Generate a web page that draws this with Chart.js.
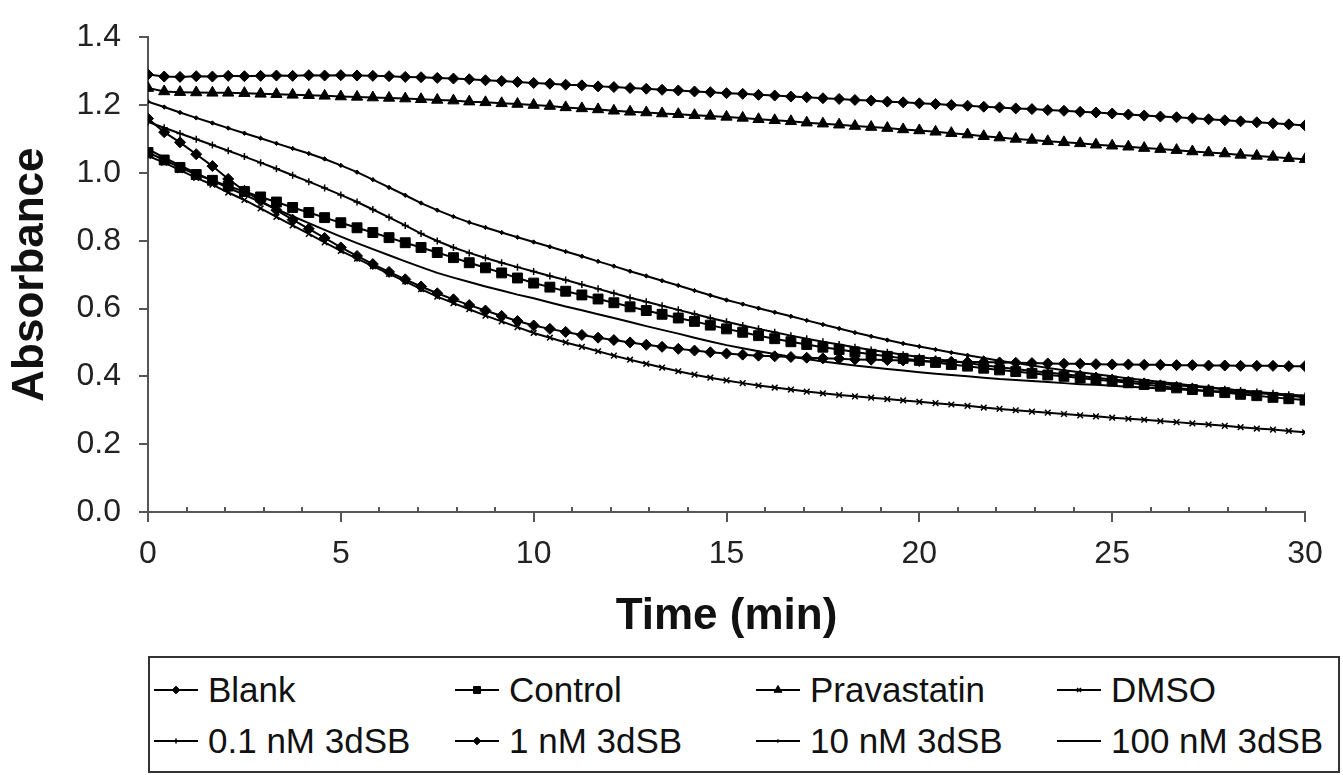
<!DOCTYPE html>
<html>
<head>
<meta charset="utf-8">
<script src="https://cdn.jsdelivr.net/npm/chart.js@4.4.1/dist/chart.umd.min.js"></script>
<style>
  html, body { margin: 0; padding: 0; background: #fff; }
  body { width: 1343px; height: 775px; position: relative; overflow: hidden; font-family: "Liberation Sans", Arial, sans-serif; }
  #wrap { position: absolute; left: 0; top: 0; width: 1343px; height: 650px; }
  #legend { position: absolute; left: 148px; top: 656px; width: 1188px; height: 113px; border: 2px solid #333; }
  .item { position: absolute; height: 40px; display: flex; align-items: center; }
  .item canvas { margin-right: 8px; }
  .item span { font-size: 35px; color: #111; white-space: nowrap; }
</style>
</head>
<body>
<div id="wrap"><canvas id="myChart" width="1343" height="650"></canvas></div>
<div id="legend"></div>
<script>
// time points, minutes (one reading every 25 s)
const times = [
  0, 0.42, 0.83, 1.25, 1.67, 2.08, 2.5, 2.92, 3.33, 3.75, 4.17, 4.58,
  5, 5.42, 5.83, 6.25, 6.67, 7.08, 7.5, 7.92, 8.33, 8.75, 9.17, 9.58,
  10, 10.42, 10.83, 11.25, 11.67, 12.08, 12.5, 12.92, 13.33, 13.75, 14.17, 14.58,
  15, 15.42, 15.83, 16.25, 16.67, 17.08, 17.5, 17.92, 18.33, 18.75, 19.17, 19.58,
  20, 20.42, 20.83, 21.25, 21.67, 22.08, 22.5, 22.92, 23.33, 23.75, 24.17, 24.58,
  25, 25.42, 25.83, 26.25, 26.67, 27.08, 27.5, 27.92, 28.33, 28.75, 29.17, 29.58, 30
];

const blank = [
  1.290, 1.284, 1.283, 1.285, 1.284, 1.286, 1.285, 1.286, 1.287, 1.286, 1.288, 1.287,
  1.288, 1.287, 1.286, 1.285, 1.283, 1.282, 1.280, 1.278, 1.276, 1.273, 1.271, 1.268,
  1.265, 1.263, 1.260, 1.258, 1.255, 1.253, 1.250, 1.248, 1.245, 1.243, 1.240, 1.238,
  1.235, 1.233, 1.230, 1.228, 1.225, 1.223, 1.220, 1.218, 1.215, 1.213, 1.210, 1.208,
  1.205, 1.203, 1.200, 1.198, 1.195, 1.193, 1.190, 1.188, 1.185, 1.183, 1.180, 1.178,
  1.175, 1.172, 1.169, 1.166, 1.164, 1.161, 1.158, 1.155, 1.152, 1.149, 1.146, 1.143, 1.140
];
const control = [
  1.060, 1.038, 1.016, 0.995, 0.978, 0.961, 0.945, 0.929, 0.914, 0.898, 0.883, 0.868,
  0.853, 0.838, 0.824, 0.809, 0.794, 0.780, 0.765, 0.750, 0.735, 0.720, 0.705, 0.690,
  0.675, 0.663, 0.651, 0.640, 0.628, 0.617, 0.605, 0.594, 0.583, 0.572, 0.562, 0.551,
  0.540, 0.530, 0.520, 0.511, 0.502, 0.494, 0.486, 0.479, 0.472, 0.465, 0.459, 0.453,
  0.447, 0.441, 0.435, 0.430, 0.424, 0.419, 0.414, 0.409, 0.404, 0.400, 0.395, 0.390,
  0.386, 0.381, 0.376, 0.371, 0.366, 0.361, 0.356, 0.352, 0.347, 0.343, 0.338, 0.334, 0.330
];
const pravastatin = [
  1.250, 1.240, 1.238, 1.237, 1.236, 1.236, 1.235, 1.233, 1.232, 1.230, 1.229, 1.227,
  1.225, 1.224, 1.222, 1.221, 1.219, 1.217, 1.215, 1.213, 1.210, 1.208, 1.205, 1.203,
  1.200, 1.197, 1.193, 1.190, 1.187, 1.183, 1.180, 1.178, 1.175, 1.173, 1.170, 1.168,
  1.165, 1.162, 1.158, 1.155, 1.152, 1.148, 1.145, 1.142, 1.138, 1.135, 1.132, 1.128,
  1.125, 1.121, 1.117, 1.113, 1.108, 1.104, 1.100, 1.097, 1.093, 1.090, 1.087, 1.083,
  1.080, 1.077, 1.073, 1.070, 1.067, 1.063, 1.060, 1.057, 1.053, 1.050, 1.047, 1.043, 1.040
];
const dmso = [
  1.050, 1.030, 1.008, 0.985, 0.965, 0.942, 0.920, 0.895, 0.870, 0.845, 0.820, 0.795,
  0.770, 0.747, 0.725, 0.702, 0.680, 0.657, 0.635, 0.616, 0.598, 0.579, 0.562, 0.545,
  0.528, 0.514, 0.500, 0.487, 0.474, 0.461, 0.449, 0.437, 0.426, 0.415, 0.405, 0.396,
  0.388, 0.380, 0.373, 0.367, 0.361, 0.355, 0.350, 0.345, 0.341, 0.337, 0.333, 0.329,
  0.325, 0.321, 0.317, 0.313, 0.308, 0.304, 0.300, 0.296, 0.293, 0.289, 0.285, 0.282,
  0.278, 0.275, 0.272, 0.268, 0.265, 0.261, 0.258, 0.254, 0.250, 0.246, 0.243, 0.239, 0.235
];
const sb01 = [
  1.150, 1.133, 1.116, 1.099, 1.082, 1.065, 1.048, 1.030, 1.012, 0.993, 0.974, 0.955,
  0.935, 0.914, 0.892, 0.869, 0.845, 0.821, 0.799, 0.780, 0.764, 0.749, 0.735, 0.722,
  0.709, 0.696, 0.684, 0.671, 0.658, 0.645, 0.632, 0.620, 0.608, 0.596, 0.584, 0.572,
  0.561, 0.550, 0.540, 0.530, 0.520, 0.511, 0.502, 0.494, 0.486, 0.478, 0.471, 0.464,
  0.457, 0.451, 0.445, 0.439, 0.433, 0.427, 0.422, 0.416, 0.411, 0.406, 0.401, 0.396,
  0.391, 0.387, 0.382, 0.378, 0.374, 0.370, 0.366, 0.362, 0.358, 0.354, 0.350, 0.346, 0.342
];
const sb1 = [
  1.160, 1.120, 1.090, 1.055, 1.020, 0.982, 0.947, 0.918, 0.890, 0.862, 0.835, 0.808,
  0.780, 0.755, 0.731, 0.708, 0.686, 0.665, 0.645, 0.627, 0.610, 0.594, 0.578, 0.563,
  0.550, 0.540, 0.531, 0.522, 0.514, 0.507, 0.500, 0.493, 0.487, 0.481, 0.476, 0.471,
  0.467, 0.464, 0.461, 0.459, 0.457, 0.455, 0.453, 0.452, 0.450, 0.449, 0.448, 0.447,
  0.445, 0.444, 0.443, 0.442, 0.442, 0.441, 0.440, 0.439, 0.438, 0.437, 0.437, 0.436,
  0.435, 0.435, 0.434, 0.434, 0.433, 0.433, 0.432, 0.432, 0.431, 0.431, 0.431, 0.430, 0.430
];
const sb10 = [
  1.210, 1.194, 1.178, 1.162, 1.147, 1.132, 1.117, 1.102, 1.087, 1.072, 1.057, 1.041,
  1.022, 1.002, 0.980, 0.957, 0.934, 0.911, 0.890, 0.871, 0.854, 0.839, 0.824, 0.810,
  0.796, 0.782, 0.768, 0.754, 0.739, 0.725, 0.710, 0.696, 0.682, 0.668, 0.653, 0.639,
  0.625, 0.613, 0.601, 0.589, 0.577, 0.565, 0.553, 0.541, 0.529, 0.518, 0.507, 0.497,
  0.488, 0.479, 0.470, 0.462, 0.454, 0.446, 0.439, 0.432, 0.425, 0.418, 0.412, 0.406,
  0.400, 0.394, 0.389, 0.383, 0.378, 0.373, 0.368, 0.363, 0.358, 0.353, 0.348, 0.343, 0.338
];
const sb100 = [
  1.070, 1.045, 1.022, 0.999, 0.977, 0.956, 0.935, 0.914, 0.893, 0.872, 0.852, 0.832,
  0.812, 0.793, 0.775, 0.757, 0.739, 0.722, 0.705, 0.691, 0.678, 0.665, 0.653, 0.641,
  0.630, 0.618, 0.606, 0.595, 0.583, 0.572, 0.560, 0.548, 0.537, 0.526, 0.514, 0.503,
  0.492, 0.483, 0.474, 0.466, 0.458, 0.451, 0.444, 0.438, 0.432, 0.427, 0.422, 0.417,
  0.412, 0.408, 0.404, 0.400, 0.396, 0.392, 0.389, 0.386, 0.383, 0.380, 0.377, 0.375,
  0.372, 0.369, 0.367, 0.364, 0.362, 0.359, 0.357, 0.355, 0.352, 0.350, 0.348, 0.345, 0.343
];

const seriesNames = ["Blank", "Control", "Pravastatin", "DMSO", "0.1 nM 3dSB", "1 nM 3dSB", "10 nM 3dSB", "100 nM 3dSB"];
const seriesValues = [blank, control, pravastatin, dmso, sb01, sb1, sb10, sb100];
const yTicks = [0, 0.2, 0.4, 0.6, 0.8, 1.0, 1.2, 1.4];
const xTicks = [0, 5, 10, 15, 20, 25, 30];

// marker look per series
const markers = [
  { style: "rectRot", r: 5.5, bw: 1 },
  { style: "rect", r: 7, bw: 1 },
  { style: "triangle", r: 6.5, bw: 1 },
  { style: "crossRot", r: 4, bw: 1.5 },
  { style: "cross", r: 3.5, bw: 1.5 },
  { style: "rectRot", r: 5.5, bw: 1 },
  { style: "rectRot", r: 2.2, bw: 1 },
  { style: false, r: 0, bw: 0 },
];

const INK = "#000";
const AXIS = "#555";
const FONT = "'Liberation Sans', Arial, sans-serif";

const datasets = seriesNames.map((name, k) => ({
  label: name,
  data: times.map((t, i) => ({ x: t, y: seriesValues[k][i] })),
  borderColor: INK,
  backgroundColor: INK,
  borderWidth: 2,
  pointStyle: markers[k].style,
  pointRadius: markers[k].r,
  pointBorderWidth: markers[k].bw,
  pointBorderColor: INK,
  pointBackgroundColor: INK,
  tension: 0,
}));

// small minor ticks every minute on the time axis
const minorTicks = {
  id: "minorTicks",
  afterDraw(chart) {
    const xs = chart.scales.x;
    const ctx = chart.ctx;
    const y0 = chart.chartArea.bottom;
    ctx.save();
    ctx.strokeStyle = AXIS;
    ctx.lineWidth = 2;
    for (let m = 1; m < 30; m++) {
      if (m % 5 === 0) continue;
      const px = Math.round(xs.getPixelForValue(m));
      ctx.beginPath();
      ctx.moveTo(px, y0);
      ctx.lineTo(px, y0 - 5);
      ctx.stroke();
    }
    ctx.restore();
  },
};

const ctx = document.getElementById("myChart");
new Chart(ctx, {
  type: "line",
  data: { datasets: datasets },
  options: {
    responsive: false,
    animation: false,
    devicePixelRatio: 1,
    layout: { padding: { left: 0, right: 38, top: 25, bottom: 0 } },
    plugins: { legend: { display: false }, tooltip: { enabled: false } },
    scales: {
      x: {
        type: "linear",
        min: 0,
        max: 30,
        afterBuildTicks: (scale) => { scale.ticks = xTicks.map((v) => ({ value: v })); },
        afterFit: (scale) => { scale.height = 138; },
        ticks: { padding: 13, color: "#222", font: { family: FONT, size: 32 }, maxRotation: 0 },
        grid: { drawOnChartArea: false, drawTicks: true, tickLength: 10, color: AXIS, lineWidth: 2 },
        border: { display: true, color: AXIS, width: 2 },
        title: { display: true, text: "Time (min)", color: "#111", font: { family: FONT, size: 44, weight: "bold" }, padding: { top: 0, bottom: 7 } },
      },
      y: {
        min: 0,
        max: 1.4,
        afterBuildTicks: (scale) => { scale.ticks = yTicks.map((v) => ({ value: v })); },
        afterFit: (scale) => { scale.width = 148; },
        ticks: { padding: 18, color: "#222", font: { family: FONT, size: 32 }, callback: (v) => Number(v).toFixed(1) },
        grid: { drawOnChartArea: false, drawTicks: true, tickLength: 9, color: AXIS, lineWidth: 2 },
        border: { display: true, color: AXIS, width: 2 },
        title: { display: true, text: "Absorbance", color: "#111", font: { family: FONT, size: 44, weight: "bold" }, padding: { top: 4, bottom: 0 } },
      },
    },
  },
  plugins: [minorTicks],
});

// legend laid out in a 4 x 2 grid like the original
const legend = document.getElementById("legend");
const colLeft = [2, 303, 604, 905];
const rowTop = [12, 63];
seriesNames.forEach((name, k) => {
  const item = document.createElement("div");
  item.className = "item";
  item.style.left = colLeft[k % 4] + "px";
  item.style.top = rowTop[Math.floor(k / 4)] + "px";
  const c = document.createElement("canvas");
  c.width = 48;
  c.height = 20;
  const g = c.getContext("2d");
  g.strokeStyle = INK;
  g.fillStyle = INK;
  g.lineWidth = 2;
  g.beginPath();
  g.moveTo(2, 10);
  g.lineTo(46, 10);
  g.stroke();
  const m = markers[k];
  if (m.style && Chart.helpers && Chart.helpers.drawPoint) {
    g.lineWidth = m.bw;
    Chart.helpers.drawPoint(g, { pointStyle: m.style, radius: m.r * 0.7, borderWidth: m.bw, rotation: 0 }, 24, 10);
  }
  const s = document.createElement("span");
  s.textContent = name;
  item.appendChild(c);
  item.appendChild(s);
  legend.appendChild(item);
});
</script>
</body>
</html>
